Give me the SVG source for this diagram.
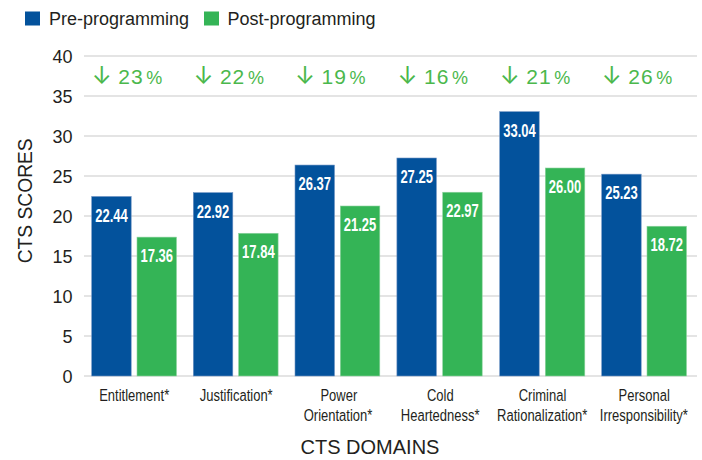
<svg xmlns="http://www.w3.org/2000/svg" width="702" height="460" viewBox="0 0 702 460">
<style>
  text { font-family: "Liberation Sans", Arial, sans-serif; }
  .grid { stroke: #c9c9c9; stroke-width: 1; }
  .pre { fill: #03529c; stroke: #6f93c4; stroke-width: 0.6; }
  .post { fill: #34b456; stroke: #8fd3a0; stroke-width: 0.6; }
  .val { fill: #ffffff; font-size: 13px; font-weight: bold; text-anchor: middle; }
  .tick { fill: #231f20; font-size: 18px; text-anchor: end; }
  .cat { fill: #231f20; font-size: 13px; text-anchor: middle; }
  .pct { fill: #4bb84c; font-size: 21px; }
  .pct .num { letter-spacing: 1px; }
  .pct .sym { font-size: 18px; }
  .pct .arr { font-family: Inter, "Noto Sans CJK SC", sans-serif; font-size: 24px; }
  .leg { fill: #231f20; font-size: 18px; }
  .title { fill: #231f20; font-size: 20px; text-anchor: middle; }
</style>
<rect width="702" height="460" fill="#ffffff"/>
<g id="legend">
  <rect x="25" y="11.5" width="15" height="14" fill="#03529c"/>
  <text class="leg" x="49" y="25">Pre-programming</text>
  <rect x="204" y="11.5" width="15" height="14" fill="#34b456"/>
  <text class="leg" x="227.5" y="25">Post-programming</text>
</g>
<g id="grid">
  <line class="grid" x1="84" y1="56" x2="697" y2="56"/>
  <line class="grid" x1="84" y1="96" x2="697" y2="96"/>
  <line class="grid" x1="84" y1="136" x2="697" y2="136"/>
  <line class="grid" x1="84" y1="176" x2="697" y2="176"/>
  <line class="grid" x1="84" y1="216" x2="697" y2="216"/>
  <line class="grid" x1="84" y1="256" x2="697" y2="256"/>
  <line class="grid" x1="84" y1="296" x2="697" y2="296"/>
  <line class="grid" x1="84" y1="336" x2="697" y2="336"/>
  <line class="grid" x1="84" y1="376" x2="697" y2="376"/>
</g>
<g id="y-axis">
  <text class="tick" x="72.5" y="63">40</text>
  <text class="tick" x="72.5" y="103">35</text>
  <text class="tick" x="72.5" y="143">30</text>
  <text class="tick" x="72.5" y="183">25</text>
  <text class="tick" x="72.5" y="223">20</text>
  <text class="tick" x="72.5" y="263">15</text>
  <text class="tick" x="72.5" y="303">10</text>
  <text class="tick" x="72.5" y="343">5</text>
  <text class="tick" x="72.5" y="383">0</text>
  <text class="title" transform="translate(31.5,200.8) rotate(-90)" font-size="21" textLength="125" lengthAdjust="spacingAndGlyphs">CTS SCORES</text>
</g>
<g id="entitlement">
  <rect class="pre" x="91.7" y="196.48" width="39.5" height="179.52"/>
  <text class="val" transform="translate(111.45,221.5) scale(1,1.35)">22.44</text>
  <rect class="post" x="137" y="237.12" width="39.5" height="138.88"/>
  <text class="val" transform="translate(156.75,262.1) scale(1,1.35)">17.36</text>
  <text class="pct" y="83.7"><tspan class="arr" x="91.8">↓</tspan><tspan class="num" x="118.3">23</tspan><tspan class="sym" x="146.3">%</tspan></text>
  <text class="cat" transform="translate(134.2,400.7) scale(1,1.3)">Entitlement*</text>
</g>
<g id="justification">
  <rect class="pre" x="193.3" y="192.64" width="39.5" height="183.36"/>
  <text class="val" transform="translate(213.05,217.6) scale(1,1.35)">22.92</text>
  <rect class="post" x="238.6" y="233.28" width="39.5" height="142.72"/>
  <text class="val" transform="translate(258.35,258.3) scale(1,1.35)">17.84</text>
  <text class="pct" y="83.7"><tspan class="arr" x="193.4">↓</tspan><tspan class="num" x="219.9">22</tspan><tspan class="sym" x="247.9">%</tspan></text>
  <text class="cat" transform="translate(236.2,400.7) scale(1,1.3)">Justification*</text>
</g>
<g id="power-orientation">
  <rect class="pre" x="295" y="165.04" width="39.5" height="210.96"/>
  <text class="val" transform="translate(314.75,190) scale(1,1.35)">26.37</text>
  <rect class="post" x="340.3" y="206" width="39.5" height="170"/>
  <text class="val" transform="translate(360.05,231) scale(1,1.35)">21.25</text>
  <text class="pct" y="83.7"><tspan class="arr" x="295.1">↓</tspan><tspan class="num" x="321.6">19</tspan><tspan class="sym" x="349.6">%</tspan></text>
  <text class="cat" transform="translate(338.8,400.7) scale(1,1.3)">Power</text>
  <text class="cat" transform="translate(338,420.7) scale(1,1.3)">Orientation*</text>
</g>
<g id="cold-heartedness">
  <rect class="pre" x="396.9" y="158" width="39.5" height="218"/>
  <text class="val" transform="translate(416.65,183) scale(1,1.35)">27.25</text>
  <rect class="post" x="442.7" y="192.24" width="39.5" height="183.76"/>
  <text class="val" transform="translate(462.45,217.2) scale(1,1.35)">22.97</text>
  <text class="pct" y="83.7"><tspan class="arr" x="397.5">↓</tspan><tspan class="num" x="424">16</tspan><tspan class="sym" x="452">%</tspan></text>
  <text class="cat" transform="translate(440.3,400.7) scale(1,1.3)">Cold</text>
  <text class="cat" transform="translate(440.2,420.7) scale(1,1.3)">Heartedness*</text>
</g>
<g id="criminal-rationalization">
  <rect class="pre" x="499.7" y="111.68" width="39.5" height="264.32"/>
  <text class="val" transform="translate(519.45,136.7) scale(1,1.35)">33.04</text>
  <rect class="post" x="545.3" y="168" width="39.5" height="208"/>
  <text class="val" transform="translate(565.05,193) scale(1,1.35)">26.00</text>
  <text class="pct" y="83.7"><tspan class="arr" x="499.8">↓</tspan><tspan class="num" x="526.3">21</tspan><tspan class="sym" x="554.3">%</tspan></text>
  <text class="cat" transform="translate(542.5,400.7) scale(1,1.3)">Criminal</text>
  <text class="cat" transform="translate(542.2,420.7) scale(1,1.3)">Rationalization*</text>
</g>
<g id="personal-irresponsibility">
  <rect class="pre" x="601.7" y="174.16" width="39.5" height="201.84"/>
  <text class="val" transform="translate(621.45,199.2) scale(1,1.35)">25.23</text>
  <rect class="post" x="647" y="226.24" width="39.5" height="149.76"/>
  <text class="val" transform="translate(666.75,251.2) scale(1,1.35)">18.72</text>
  <text class="pct" y="83.7"><tspan class="arr" x="601.8">↓</tspan><tspan class="num" x="628.3">26</tspan><tspan class="sym" x="656.3">%</tspan></text>
  <text class="cat" transform="translate(644.2,400.7) scale(1,1.3)">Personal</text>
  <text class="cat" transform="translate(643.8,420.7) scale(1,1.3)">Irresponsibility*</text>
</g>
<g id="connectors"></g>
<text class="title" x="370" y="454">CTS DOMAINS</text>
</svg>
